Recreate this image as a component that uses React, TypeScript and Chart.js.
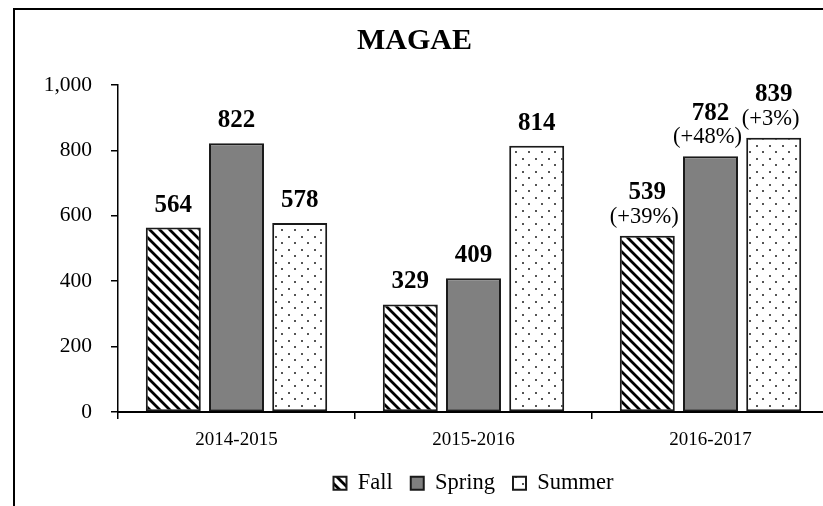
import React, { useEffect, useRef } from 'react';
import { Chart, registerables } from 'chart.js';

Chart.register(...registerables);

const categories = ['2014-2015', '2015-2016', '2016-2017'];
const seriesNames = ['Fall', 'Spring', 'Summer'];
const fallValues = [564, 329, 539];
const springValues = [822, 409, 782];
const summerValues = [578, 814, 839];
const fallChange = ['', '', '(+39%)'];
const springChange = ['', '', '(+48%)'];
const summerChange = ['', '', '(+3%)'];
const yTicks = [0, 200, 400, 600, 800, 1000];
const chartTitle = 'MAGAE';

const FONT = "'Liberation Serif', 'Times New Roman', serif";
const CANVAS_W = 895;
const CANVAS_H = 530;
const PLOT_RIGHT = 829;

function makeStripes(): CanvasPattern | string {
  const s = 10;
  const c = document.createElement('canvas');
  c.width = s;
  c.height = s;
  const g = c.getContext('2d')!;
  g.fillStyle = '#fff';
  g.fillRect(0, 0, s, s);
  g.strokeStyle = '#000';
  g.lineWidth = 2.8;
  g.beginPath();
  g.moveTo(-2, -2);
  g.lineTo(s + 2, s + 2);
  g.moveTo(-2, s - 2);
  g.lineTo(2, s + 2);
  g.moveTo(s - 2, -2);
  g.lineTo(s + 2, 2);
  g.stroke();
  return g.createPattern(c, 'repeat') || '#fff';
}

function makeDots(): CanvasPattern | string {
  const s = 13;
  const c = document.createElement('canvas');
  c.width = s;
  c.height = s;
  const g = c.getContext('2d')!;
  g.fillStyle = '#fff';
  g.fillRect(0, 0, s, s);
  g.fillStyle = '#555';
  g.fillRect(2, 2, 2, 2);
  g.fillRect(8, 8, 2, 2);
  return g.createPattern(c, 'repeat') || '#fff';
}

const framePlugin = {
  id: 'frame',
  beforeDraw(chart: any) {
    const ctx = chart.ctx;
    ctx.save();
    ctx.fillStyle = '#fff';
    ctx.fillRect(0, 0, chart.width, chart.height);
    ctx.strokeStyle = '#000';
    ctx.lineWidth = 2;
    ctx.beginPath();
    ctx.moveTo(14, chart.height);
    ctx.lineTo(14, 9);
    ctx.lineTo(chart.width, 9);
    ctx.stroke();
    ctx.restore();
  },
};

const changeLabels = [fallChange, springChange, summerChange];

const labelPlugin = {
  id: 'barLabels',
  afterDatasetsDraw(chart: any) {
    const ctx = chart.ctx;
    ctx.save();
    ctx.fillStyle = '#000';
    ctx.textAlign = 'center';
    ctx.textBaseline = 'alphabetic';
    chart.data.datasets.forEach((ds: any, i: number) => {
      const meta = chart.getDatasetMeta(i);
      meta.data.forEach((bar: any, j: number) => {
        const v = ds.data[j];
        const ch = changeLabels[i][j];
        const { x, y } = bar.getProps(['x', 'y'], true);
        let base = y - 16;
        if (ch) {
          ctx.font = `normal 22.5px ${FONT}`;
          ctx.fillText(ch, x - 3, y - 13);
          base = y - 13 - 23.5;
        }
        ctx.font = `bold 25px ${FONT}`;
        ctx.fillText(String(v), x, base);
      });
    });
    ctx.restore();
  },
};

export default function App() {
  const ref = useRef<HTMLCanvasElement>(null);

  useEffect(() => {
    const canvas = ref.current;
    if (!canvas) return;
    const stripes = makeStripes();
    const dots = makeDots();
    const fills = [stripes, '#808080', dots];
    const values = [fallValues, springValues, summerValues];

    const chart = new Chart(canvas, {
      type: 'bar',
      data: {
        labels: categories,
        datasets: seriesNames.map((name, i) => ({
          label: name,
          data: values[i],
          backgroundColor: fills[i] as any,
          borderColor: '#1a1a1a',
          borderWidth: 2,
          borderSkipped: false,
          categoryPercentage: 0.8,
          barPercentage: 0.87,
        })),
      },
      options: {
        responsive: false,
        animation: false,
        events: [],
        layout: { padding: { left: 0, right: CANVAS_W - PLOT_RIGHT, top: 0, bottom: 25.5 } },
        plugins: {
          title: {
            display: true,
            text: chartTitle,
            color: '#000',
            font: { family: FONT, size: 30, weight: 'bold' },
            padding: { top: 23.5, bottom: 25.5 },
          },
          legend: {
            position: 'bottom',
            fullSize: false,
            labels: {
              color: '#000',
              font: { family: FONT, size: 22.5 },
              boxWidth: 13,
              boxHeight: 13,
              padding: 18,
            },
          },
          tooltip: { enabled: false },
        },
        scales: {
          x: {
            grid: {
              display: true,
              drawOnChartArea: false,
              drawTicks: true,
              tickLength: 7,
              color: '#000',
              lineWidth: 1.5,
              offset: true,
            },
            border: { display: true, color: '#000', width: 2 },
            ticks: { color: '#000', font: { family: FONT, size: 19 }, padding: 10 },
            afterFit: (s: any) => {
              s.height = 42;
            },
          },
          y: {
            min: 0,
            max: 1000,
            grid: {
              display: true,
              drawOnChartArea: false,
              drawTicks: true,
              tickLength: 7,
              color: '#000',
              lineWidth: 1.5,
            },
            border: { display: true, color: '#000', width: 1.5 },
            ticks: {
              color: '#000',
              font: { family: FONT, size: 21.5 },
              padding: 19,
              callback: (v: any) => Number(v).toLocaleString('en-US'),
            },
            afterBuildTicks: (s: any) => {
              s.ticks = yTicks.map((v) => ({ value: v }));
            },
            afterFit: (s: any) => {
              s.width = 118;
            },
          },
        },
      },
      plugins: [framePlugin, labelPlugin],
    });
    return () => chart.destroy();
  }, []);

  return (
    <div
      style={{
        position: 'fixed',
        left: 0,
        top: 0,
        width: 823,
        height: 506,
        overflow: 'hidden',
        background: '#fff',
      }}
    >
      <canvas ref={ref} width={CANVAS_W} height={CANVAS_H} style={{ display: 'block' }} />
    </div>
  );
}
